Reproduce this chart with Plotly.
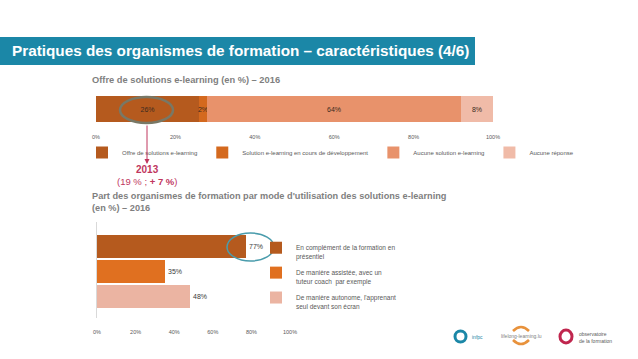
import plotly.graph_objects as go

W, H = 638, 359

# ---- data ----
offer_labels = ["Offre de solutions e-learning", "Solution e-learning en cours de développement",
                "Aucune solution e-learning", "Aucune réponse"]
offer_values = [26, 2, 64, 8]
offer_colors = ["#b55a1e", "#d4691e", "#e8926b", "#f0bba8"]

mode_labels = ["En complément de la formation en<br>présentiel",
               "De manière assistée, avec un<br>tuteur coach  par exemple",
               "De manière autonome, l'apprenant<br>seul devant son écran"]
mode_values = [77, 35, 48]
mode_colors = ["#b55a1e", "#e07020", "#ebb4a2"]

tick_vals = [0, 20, 40, 60, 80, 100]

FONT = "Liberation Sans, Arial, sans-serif"

def px(x):
    return x / W

def py(y):
    return 1 - y / H

fig = go.Figure()

for lab, v, c in zip(offer_labels, offer_values, offer_colors):
    fig.add_trace(go.Bar(
        x=[v], y=["2016"], orientation="h", name=lab, marker_color=c,
        marker_line_width=0, width=1, text=[f"{v}%"], textposition="inside",
        insidetextanchor="middle", constraintext="none", textangle=0,
        textfont=dict(size=7, color="#3a2a20", family=FONT),
        xaxis="x", yaxis="y", legend="legend", hoverinfo="skip"))

mode_cats = ["m1", "m2", "m3"]
for i, (lab, v, c) in enumerate(zip(mode_labels, mode_values, mode_colors)):
    fig.add_trace(go.Bar(
        x=[v], y=[mode_cats[i]], orientation="h", name=lab, marker_color=c,
        marker_line_width=0, width=0.92, text=[f"{v}%"], textposition="outside",
        textfont=dict(size=7, color="#3a3a3a", family=FONT), cliponaxis=False,
        xaxis="x2", yaxis="y2", legend="legend2", legendgroup=f"g{i}", hoverinfo="skip"))

axis_common = dict(tickvals=tick_vals, ticktext=[f"{t}%" for t in tick_vals],
                   tickfont=dict(size=5.5, color="#595959", family=FONT),
                   showgrid=False, zeroline=False, fixedrange=True, ticks="")

fig.update_layout(
    width=W, height=H, margin=dict(l=0, r=0, t=0, b=0, autoexpand=False),
    paper_bgcolor="white", plot_bgcolor="white", barmode="stack", bargap=0,
    font=dict(family=FONT),
    xaxis=dict(domain=[px(96), px(493)], range=[0, 100], anchor="y",
               ticklabelstandoff=10, **axis_common),
    yaxis=dict(domain=[py(122), py(96)], range=[-0.5, 0.5], showticklabels=False,
               showgrid=False, zeroline=False, anchor="x", fixedrange=True),
    xaxis2=dict(domain=[px(97), px(290)], range=[0, 100], anchor="y2",
                ticklabelstandoff=9, **axis_common),
    yaxis2=dict(domain=[py(318), py(222)], range=[2.86, -0.98], showticklabels=False,
                showgrid=False, zeroline=False, anchor="x2", showline=True,
                linecolor="#d9d9d9", linewidth=1, fixedrange=True,
                categoryorder="array", categoryarray=mode_cats),
    legend=dict(orientation="h", x=px(82), y=py(138), xanchor="left", yanchor="top",
                font=dict(size=6, color="#595959", family=FONT), bgcolor="rgba(0,0,0,0)",
                itemwidth=30, traceorder="normal"),
    legend2=dict(orientation="v", x=px(256), y=py(237), xanchor="left", yanchor="top",
                 font=dict(size=6.5, color="#595959", family=FONT), bgcolor="rgba(0,0,0,0)",
                 traceorder="grouped", tracegroupgap=5, itemwidth=30, valign="top"),
    showlegend=True,
)

shapes = [
    # title banner
    dict(type="rect", xref="paper", yref="paper", x0=0, x1=px(475), y0=py(65), y1=py(37),
         fillcolor="#1b87a7", line_width=0, layer="below"),
    # ellipse on the 26% label
    dict(type="circle", xref="paper", yref="paper", x0=px(120), x1=px(173), y0=py(123), y1=py(97),
         line=dict(color="#787866", width=2.5)),
    # ellipse on 77%
    dict(type="circle", xref="paper", yref="paper", x0=px(227), x1=px(274), y0=py(261), y1=py(233),
         line=dict(color="#4a9cac", width=1.5)),
    # logos (simplified)
    dict(type="circle", xref="paper", yref="paper", x0=px(455), x1=px(466), y0=py(342), y1=py(331),
         line=dict(color="#1b87a7", width=3)),
    dict(type="path", xref="paper", yref="paper",
         path=f"M {px(513)},{py(331)} Q {px(521)},{py(323)} {px(529)},{py(331)}",
         line=dict(color="#e8923c", width=2.5)),
    dict(type="path", xref="paper", yref="paper",
         path=f"M {px(513)},{py(340)} Q {px(521)},{py(348)} {px(529)},{py(340)}",
         line=dict(color="#e8923c", width=2.5)),
    dict(type="circle", xref="paper", yref="paper", x0=px(560), x1=px(572), y0=py(343), y1=py(330),
         line=dict(color="#c0264e", width=3)),
]

annotations = [
    dict(text="<b>Pratiques des organismes de formation – caractéristiques (4/6)</b>",
         x=px(10), y=py(51), xref="paper", yref="paper", xanchor="left", yanchor="middle",
         showarrow=False, font=dict(size=15.3, color="white", family=FONT)),
    dict(text="<b>Offre de solutions e-learning (en %) – 2016</b>",
         x=px(90), y=py(80), xref="paper", yref="paper", xanchor="left", yanchor="middle",
         showarrow=False, font=dict(size=9.3, color="#7f7f7f", family=FONT)),
    dict(text="<b>Part des organismes de formation par mode d'utilisation des solutions e-learning<br>(en %) – 2016</b>",
         x=px(90), y=py(202), xref="paper", yref="paper", xanchor="left", yanchor="middle",
         align="left", showarrow=False, font=dict(size=9.2, color="#7f7f7f", family=FONT)),
    dict(text="", x=px(147), y=py(164), ax=0, ay=-40, xref="paper", yref="paper",
         axref="pixel", ayref="pixel", showarrow=True, arrowhead=2, arrowsize=1, arrowwidth=1,
         arrowcolor="#c0365e"),
    dict(text="<b>2013</b>", x=px(147), y=py(169), xref="paper", yref="paper",
         xanchor="center", yanchor="middle", showarrow=False,
         font=dict(size=10, color="#c0365e", family=FONT)),
    dict(text="(19 % ; <b>+ 7 %</b>)", x=px(147), y=py(181), xref="paper", yref="paper",
         xanchor="center", yanchor="middle", showarrow=False,
         font=dict(size=9.5, color="#c0365e", family=FONT)),
    dict(text="infpc", x=px(470), y=py(337), xref="paper", yref="paper", xanchor="left",
         yanchor="middle", showarrow=False, font=dict(size=5, color="#1b87a7", family=FONT)),
    dict(text="lifelong-learning.lu", x=px(521), y=py(335.5), xref="paper", yref="paper",
         xanchor="center", yanchor="middle", showarrow=False,
         font=dict(size=5, color="#7f7f7f", family=FONT)),
    dict(text="observatoire<br>de la formation", x=px(577), y=py(337), xref="paper", yref="paper",
         xanchor="left", yanchor="middle", align="left", showarrow=False,
         font=dict(size=5, color="#5a5a5a", family=FONT)),
]

fig.update_layout(shapes=shapes, annotations=annotations)

fig.write_html("out.html", config={"displayModeBar": False},
               post_script="document.body.style.margin='0';document.body.style.overflow='hidden';")
